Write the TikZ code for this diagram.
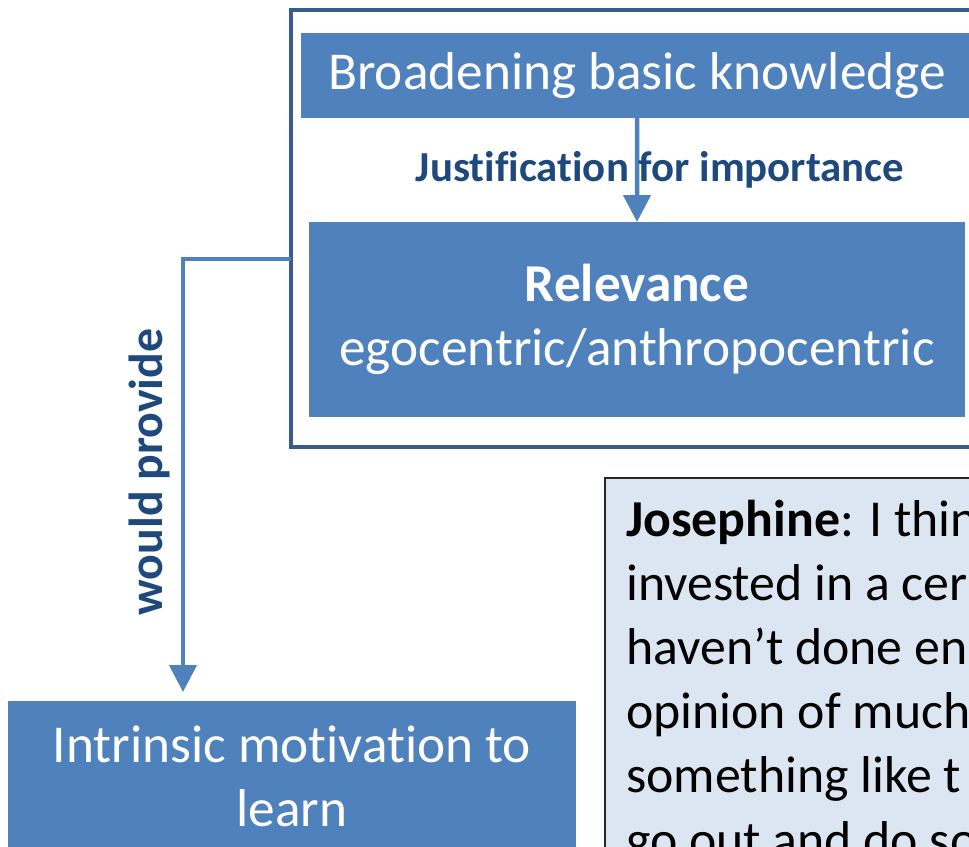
\documentclass[tikz,border=0pt]{standalone}
\usepackage{fontspec}
\setmainfont{Carlito}[Ligatures=CommonOff]
\usetikzlibrary{arrows.meta}
\definecolor{boxblue}{HTML}{4F81BD}
\definecolor{frameblue}{HTML}{385D8A}
\definecolor{labelblue}{HTML}{1F497D}
\definecolor{quoteblue}{HTML}{DCE6F2}
\begin{document}
\begin{tikzpicture}[x=1bp,y=-1bp,
    bluebox/.style={fill=boxblue,text=white,inner sep=0,outer sep=0,align=center,font=\fontsize{53.5}{64}\selectfont},
    conn/.style={draw=boxblue,line width=4.5bp,-{Triangle[width=27bp,length=27bp]}},
    lbl/.style={text=labelblue,inner sep=0,font=\fontsize{43}{50}\selectfont\bfseries}]
    \useasboundingbox (0,0) rectangle (969,847);
    \clip (0,0) rectangle (969,847);
    % group frame round the two top boxes
    \node[draw=frameblue,line width=4bp,inner sep=0,outer sep=0,minimum width=720bp,minimum height=437bp,anchor=north west] (group) at (291,10) {};
    \node[bluebox,minimum width=672bp,minimum height=85bp,anchor=north west] (broad) at (301,33) {Broadening basic knowledge};
    \node[bluebox,minimum width=656bp,minimum height=195bp,anchor=north west] (rel) at (309,222) {\textbf{Relevance}\\egocentric/anthropocentric};
    \draw[conn] (broad.south) -- (rel.north) node[lbl,midway,xshift=23bp] {Justification for importance};
    \node[bluebox,minimum width=568bp,minimum height=151bp,anchor=north west] (intr) at (8,701) {Intrinsic motivation to\\learn};
    \coordinate (provide) at (group.west |- 0,259);
    \draw[conn,shorten >=9bp] (provide) -| (183,0 |- intr.north);
    \node[lbl,rotate=90,font=\fontsize{48}{56}\selectfont\bfseries] (providelbl) at (149,472) {would provide};
    % quote
    \node[fill=quoteblue,draw=black!85,line width=2bp,inner sep=0,outer sep=0,minimum width=420bp,minimum height=420bp,anchor=north west] (quote) at (605,478) {};
    \node[anchor=base west,align=left,inner sep=0,font=\fontsize{52}{64.4}\selectfont] (quotetext) at (626,857)
      {\textbf{Josephine}: I thin\\invested in a cer\\haven’t done en\\opinion of much\\something like t\\go out and do so};
\end{tikzpicture}
\end{document}
